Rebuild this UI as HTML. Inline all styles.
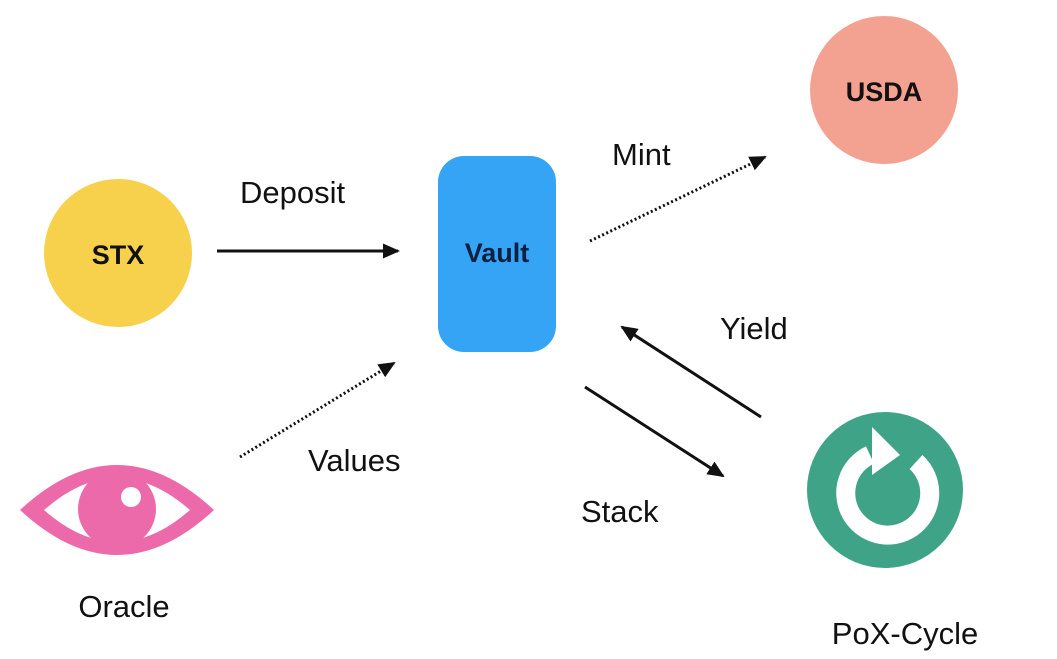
<!DOCTYPE html>
<html><head><meta charset="utf-8"><style>
html,body{margin:0;padding:0;background:#fff;}
svg{display:block;}
text{font-family:"Liberation Sans",Arial,sans-serif;}
</style></head><body>
<svg width="1057" height="659" viewBox="0 0 1057 659" xmlns="http://www.w3.org/2000/svg">
<defs>
<marker id="ah2" markerWidth="17" markerHeight="15" refX="15" refY="7.5" orient="auto" markerUnits="userSpaceOnUse" viewBox="0 0 17 15">
<path d="M0,0 L17,7.5 L0,15 z" fill="#111"/>
</marker>
</defs>
<circle cx="118" cy="253" r="74" fill="#f7d14c"/>
<text x="118" y="264" font-size="27" font-weight="bold" text-anchor="middle" fill="#111">STX</text>
<circle cx="884" cy="90" r="74" fill="#f3a291"/>
<text x="884" y="101" font-size="27" font-weight="bold" text-anchor="middle" fill="#111">USDA</text>
<rect x="438" y="156" width="118" height="196" rx="26" fill="#35a4f4"/>
<text x="497" y="262" font-size="27" font-weight="bold" text-anchor="middle" fill="#0d2040">Vault</text>
<line x1="217" y1="251" x2="398" y2="251" stroke="#111" stroke-width="3" marker-end="url(#ah2)"/>
<text x="240" y="203" font-size="31" fill="#111">Deposit</text>
<line x1="590" y1="241" x2="765" y2="157" stroke="#111" stroke-width="3" stroke-dasharray="2 2.5" marker-end="url(#ah2)"/>
<text x="612" y="165" font-size="31" fill="#111">Mint</text>
<line x1="240" y1="457" x2="394" y2="363" stroke="#111" stroke-width="3" stroke-dasharray="2 2.5" marker-end="url(#ah2)"/>
<text x="308" y="471" font-size="31" fill="#111">Values</text>
<line x1="761" y1="417" x2="622" y2="327" stroke="#111" stroke-width="3" marker-end="url(#ah2)"/>
<text x="720" y="339" font-size="31" fill="#111">Yield</text>
<line x1="585" y1="387" x2="723" y2="476" stroke="#111" stroke-width="3" marker-end="url(#ah2)"/>
<text x="581" y="522" font-size="31" fill="#111">Stack</text>
<path d="M20,510 Q117,420 214,510 Q117,600 20,510 Z" fill="#ec6aa9"/>
<path d="M44,510 Q117,446 190,510 Q117,574 44,510 Z" fill="#fff"/>
<circle cx="117" cy="509" r="39" fill="#ec6aa9"/>
<circle cx="131" cy="497" r="10" fill="#fff"/>
<text x="124" y="617" font-size="31" text-anchor="middle" fill="#111">Oracle</text>
<circle cx="885" cy="490" r="78" fill="#3fa487"/>
<path d="M870,455 A42,42 0 1 0 916,462" fill="none" stroke="#fff" stroke-width="19"/>
<path d="M872,427 L900,455 L872,475 Z" fill="#fff"/>
<text x="905" y="644" font-size="31" text-anchor="middle" fill="#111">PoX-Cycle</text>
</svg>
</body></html>
